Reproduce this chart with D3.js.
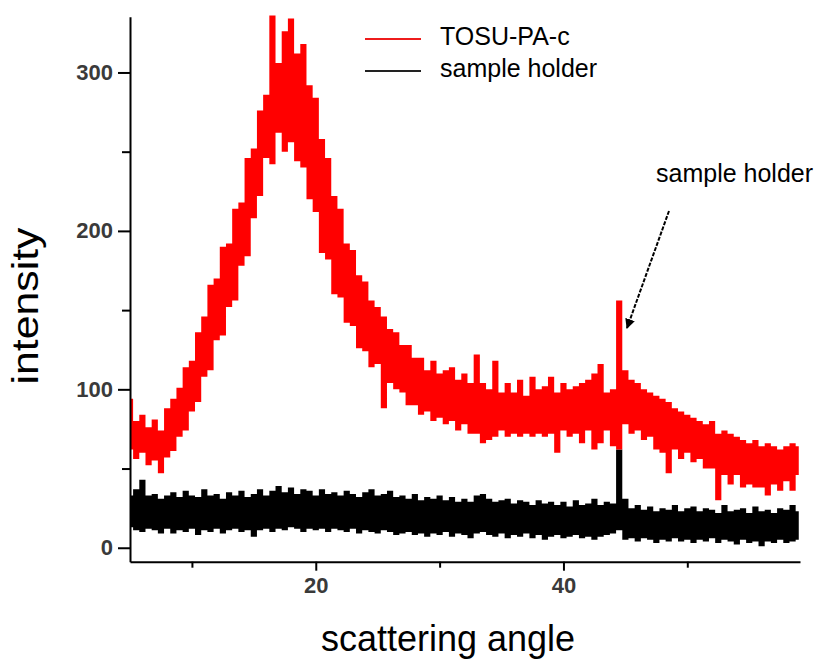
<!DOCTYPE html>
<html>
<head>
<meta charset="utf-8">
<script src="https://cdn.jsdelivr.net/npm/d3@7"></script>
<style>
  body { margin: 0; background: #fff; }
  svg { font-family: "Liberation Sans", Arial, sans-serif; }
</style>
</head>
<body>
<div class="chart"></div>
<script>
// scattering angle grid (deg)
const angles = [5,5.5,6,6.5,7,7.5,8,8.5,9,9.5,10,10.5,11,11.5,12,12.5,13,13.5,14,14.5,
  15,15.5,16,16.5,17,17.5,18,18.5,19,19.5,20,20.5,21,21.5,22,22.5,23,23.5,24,24.5,
  25,25.5,26,26.5,27,27.5,28,28.5,29,29.5,30,30.5,31,31.5,32,32.5,33,33.5,34,34.5,
  35,35.5,36,36.5,37,37.5,38,38.5,39,39.5,40,40.5,41,41.5,42,42.5,43,43.5,44,44.5,
  45,45.5,46,46.5,47,47.5,48,48.5,49,49.5,50,50.5,51,51.5,52,52.5,53,53.5,54,54.5,
  55,55.5,56,56.5,57,57.5,58,58.5,59];

// TOSU-PA-c : lower / upper edge of the noisy trace
const redLow = [62,56,60,52,55,47,57,61,70,74,86,92,108,112,131,134,152,156,178,184,
  208,222,246,242,262,250,256,244,240,220,212,186,182,160,158,142,140,126,124,114,
  116,88,104,100,98,90,90,84,86,80,82,78,80,74,78,72,72,66,68,70,
  74,70,72,70,72,70,72,70,72,60,74,70,72,66,74,62,66,74,64,62,
  78,72,74,68,70,62,60,47,62,56,60,54,56,50,50,30,46,40,46,38,
  40,38,38,33,40,36,42,36,46];
const redHigh = [94,80,84,76,81,74,88,94,101,114,118,136,146,166,170,190,192,214,218,246,
  252,276,286,336,306,326,334,312,318,292,284,258,246,222,214,192,188,172,168,156,
  152,146,138,136,128,128,120,120,112,118,110,112,114,106,110,104,122,104,100,118,
  98,104,98,106,96,108,100,102,108,98,104,100,102,104,106,110,116,98,100,156,
  112,106,104,100,98,96,94,92,88,86,84,82,80,78,80,72,74,72,70,68,
  66,68,64,66,64,62,64,66,64];

// sample holder
const blackLow = [13,11,10,12,11,9,12,9,11,10,12,8,11,10,12,9,11,12,10,11,
  7,11,12,10,12,11,13,12,10,12,11,12,10,12,11,10,12,9,11,10,
  9,11,10,8,9,10,8,9,7,9,8,10,7,9,8,6,9,10,8,7,
  9,6,8,7,9,6,8,5,7,8,6,7,8,6,7,5,7,8,9,11,
  5,6,4,6,5,3,5,4,6,4,5,3,5,4,6,3,5,4,2,5,
  3,4,1,4,3,5,3,4,5];
const blackHigh = [33,37,43,33,34,31,33,35,32,36,33,32,37,33,34,31,35,33,36,32,
  34,37,33,36,39,35,38,34,37,36,33,37,34,35,33,36,34,32,35,37,
  33,34,36,32,33,31,34,30,32,31,33,30,32,29,31,29,33,34,31,29,
  30,31,28,30,29,27,30,28,29,27,29,26,30,27,28,31,27,29,28,62,
  31,25,27,24,26,23,25,24,27,23,25,26,23,25,24,22,27,23,24,25,
  22,26,23,24,22,25,24,27,23];

const xTicks = [20, 40], xMinor = [10, 30, 50];
const yTicks = [0, 100, 200, 300], yMinor = [50, 150, 250];

const W = 814, H = 660;
const svg = d3.select(".chart").append("svg")
    .attr("width", W)
    .attr("height", H);

const x = d3.scaleLinear().domain([5, 59.1]).range([130, 800]);
const y = d3.scaleLinear().domain([-8.8, 335.2]).range([561.7, 16.7]);

// noisy trace drawn as a stepped band between its low and high edge
function band(lo, hi) {
    return d3.area()
        .curve(d3.curveStep)
        .x((d, i) => x(angles[i]))
        .y0((d, i) => y(lo[i]))
        .y1((d, i) => y(hi[i]))(angles);
}

svg.append("path")
    .attr("d", band(blackLow, blackHigh))
    .attr("fill", "#000");

svg.append("path")
    .attr("d", band(redLow, redHigh))
    .attr("fill", "#ff0000");

// axes
const yAxis = svg.append("g")
    .attr("transform", "translate(130,0)")
    .call(d3.axisLeft(y).tickValues(yTicks).tickSize(12).tickSizeOuter(0).tickPadding(5));
svg.append("g")
    .attr("transform", "translate(130,0)")
    .call(d3.axisLeft(y).tickValues(yMinor).tickSize(8).tickSizeOuter(0).tickFormat(""))
    .call(g => g.select(".domain").remove());

const xAxis = svg.append("g")
    .attr("transform", "translate(0,561.7)")
    .call(d3.axisBottom(x).tickValues(xTicks).tickSize(9).tickSizeOuter(0).tickPadding(7));
svg.append("g")
    .attr("transform", "translate(0,561.7)")
    .call(d3.axisBottom(x).tickValues(xMinor).tickSize(6).tickSizeOuter(0).tickFormat(""))
    .call(g => g.select(".domain").remove());

svg.selectAll(".domain, .tick line")
    .attr("stroke", "#000")
    .attr("stroke-width", 2);

yAxis.selectAll(".tick text")
    .style("font-size", "22px")
    .style("font-weight", "bold")
    .attr("fill", "#3a3a3a")
    .attr("font-family", null);
xAxis.selectAll(".tick text")
    .style("font-size", "22px")
    .style("font-weight", "bold")
    .attr("fill", "#3a3a3a")
    .attr("font-family", null);

// axis titles
svg.append("text")
    .attr("x", 448)
    .attr("y", 651)
    .attr("text-anchor", "middle")
    .style("font-size", "36px")
    .text("scattering angle");

svg.append("text")
    .attr("transform", "translate(38,306) rotate(-90)")
    .attr("text-anchor", "middle")
    .style("font-size", "36px")
    .attr("textLength", 157)
    .attr("lengthAdjust", "spacingAndGlyphs")
    .text("intensity");

// legend
const legend = [{name: "TOSU-PA-c", color: "#ee1c1c", y: 39},
                {name: "sample holder", color: "#222", y: 71}];
const lg = svg.append("g").selectAll("g").data(legend).join("g");
lg.append("line")
    .attr("x1", 365).attr("x2", 421)
    .attr("y1", d => d.y).attr("y2", d => d.y)
    .attr("stroke", d => d.color)
    .attr("stroke-width", 2);
lg.append("text")
    .attr("x", 440)
    .attr("y", d => d.y + 6)
    .style("font-size", "25px")
    .text(d => d.name);

// annotation
svg.append("defs").append("marker")
    .attr("id", "head")
    .attr("viewBox", "0 0 10 10")
    .attr("refX", 9).attr("refY", 5)
    .attr("markerWidth", 5).attr("markerHeight", 5)
    .attr("orient", "auto")
  .append("path")
    .attr("d", "M0,0L10,5L0,10z")
    .attr("fill", "#000");

svg.append("line")
    .attr("x1", 669).attr("y1", 211)
    .attr("x2", 627).attr("y2", 328)
    .attr("stroke", "#000")
    .attr("stroke-width", 2)
    .attr("stroke-dasharray", "4,1.5")
    .attr("marker-end", "url(#head)");

svg.append("text")
    .attr("x", 656)
    .attr("y", 182)
    .style("font-size", "25px")
    .text("sample holder");
</script>
</body>
</html>
